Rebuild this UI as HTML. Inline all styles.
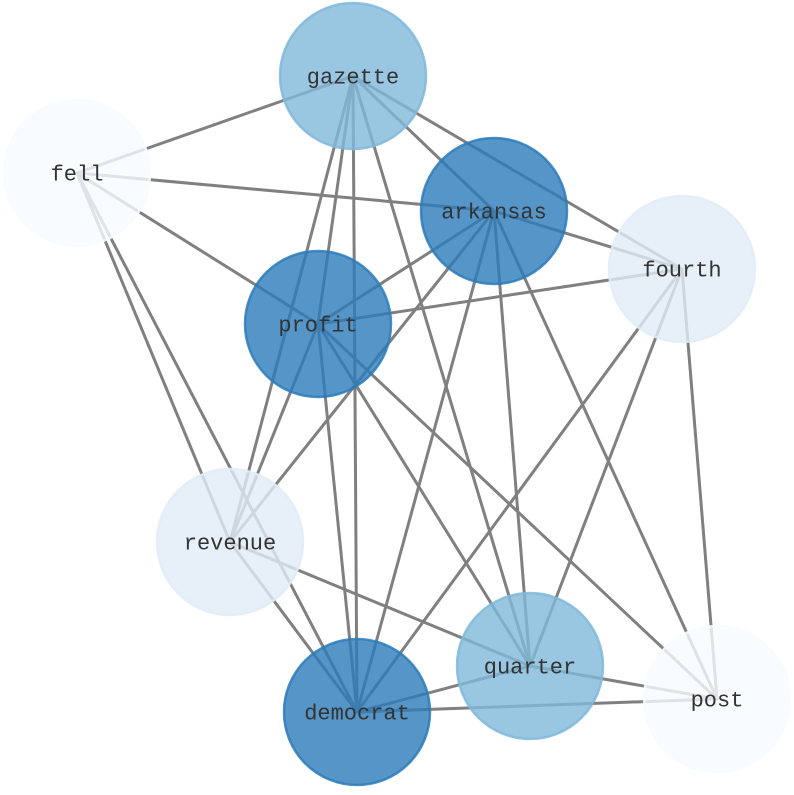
<!DOCTYPE html>
<html><head><meta charset="utf-8"><style>html,body{margin:0;padding:0;background:#fff}</style></head>
<body>
<svg width="794" height="790" viewBox="0 0 794 790" xmlns="http://www.w3.org/2000/svg">
<g stroke="#808080" stroke-width="3" stroke-linecap="round">
<line x1="353" y1="76" x2="77" y2="173"/>
<line x1="353" y1="76" x2="494" y2="211"/>
<line x1="353" y1="76" x2="682" y2="269"/>
<line x1="353" y1="76" x2="318" y2="324"/>
<line x1="353" y1="76" x2="230" y2="542"/>
<line x1="353" y1="76" x2="357" y2="712"/>
<line x1="353" y1="76" x2="530" y2="666"/>
<line x1="77" y1="173" x2="494" y2="211"/>
<line x1="77" y1="173" x2="318" y2="324"/>
<line x1="77" y1="173" x2="230" y2="542"/>
<line x1="77" y1="173" x2="357" y2="712"/>
<line x1="494" y1="211" x2="682" y2="269"/>
<line x1="494" y1="211" x2="318" y2="324"/>
<line x1="494" y1="211" x2="230" y2="542"/>
<line x1="494" y1="211" x2="357" y2="712"/>
<line x1="494" y1="211" x2="530" y2="666"/>
<line x1="494" y1="211" x2="717" y2="699"/>
<line x1="682" y1="269" x2="318" y2="324"/>
<line x1="682" y1="269" x2="357" y2="712"/>
<line x1="682" y1="269" x2="530" y2="666"/>
<line x1="682" y1="269" x2="717" y2="699"/>
<line x1="318" y1="324" x2="230" y2="542"/>
<line x1="318" y1="324" x2="357" y2="712"/>
<line x1="318" y1="324" x2="530" y2="666"/>
<line x1="318" y1="324" x2="717" y2="699"/>
<line x1="230" y1="542" x2="530" y2="666"/>
<line x1="230" y1="542" x2="357" y2="712"/>
<line x1="530" y1="666" x2="357" y2="712"/>
<line x1="530" y1="666" x2="717" y2="699"/>
<line x1="357" y1="712" x2="717" y2="699"/>
</g>
<g stroke-width="2.5" fill-opacity="0.8" stroke-opacity="0.85">
<circle cx="353" cy="76" r="73" fill="#7fb8da" stroke="#7fb8da"/>
<circle cx="77" cy="173" r="73" fill="#f7fbff" stroke="#f7fbff"/>
<circle cx="494" cy="211" r="73" fill="#2b7bba" stroke="#2b7bba"/>
<circle cx="682" cy="269" r="73" fill="#e1ecf8" stroke="#e1ecf8"/>
<circle cx="318" cy="324" r="73" fill="#2b7bba" stroke="#2b7bba"/>
<circle cx="230" cy="542" r="73" fill="#e1ecf8" stroke="#e1ecf8"/>
<circle cx="530" cy="666" r="73" fill="#7fb8da" stroke="#7fb8da"/>
<circle cx="357" cy="712" r="73" fill="#2b7bba" stroke="#2b7bba"/>
<circle cx="717" cy="699" r="73" fill="#f7fbff" stroke="#f7fbff"/>
</g>
<g font-family="DejaVu Sans Mono, Liberation Mono, monospace" font-size="20" fill="#333" text-anchor="middle" dominant-baseline="central">
<text x="353" y="78" font-family="Liberation Mono" font-size="22">gazette</text>
<text x="77" y="175" font-family="Liberation Mono" font-size="22">fell</text>
<text x="494" y="213" font-family="Liberation Mono" font-size="22">arkansas</text>
<text x="682" y="271" font-family="Liberation Mono" font-size="22">fourth</text>
<text x="318" y="326" font-family="Liberation Mono" font-size="22">profit</text>
<text x="230" y="544" font-family="Liberation Mono" font-size="22">revenue</text>
<text x="530" y="668" font-family="Liberation Mono" font-size="22">quarter</text>
<text x="357" y="714" font-family="Liberation Mono" font-size="22">democrat</text>
<text x="717" y="701" font-family="Liberation Mono" font-size="22">post</text>
</g>
</svg>
</body></html>
